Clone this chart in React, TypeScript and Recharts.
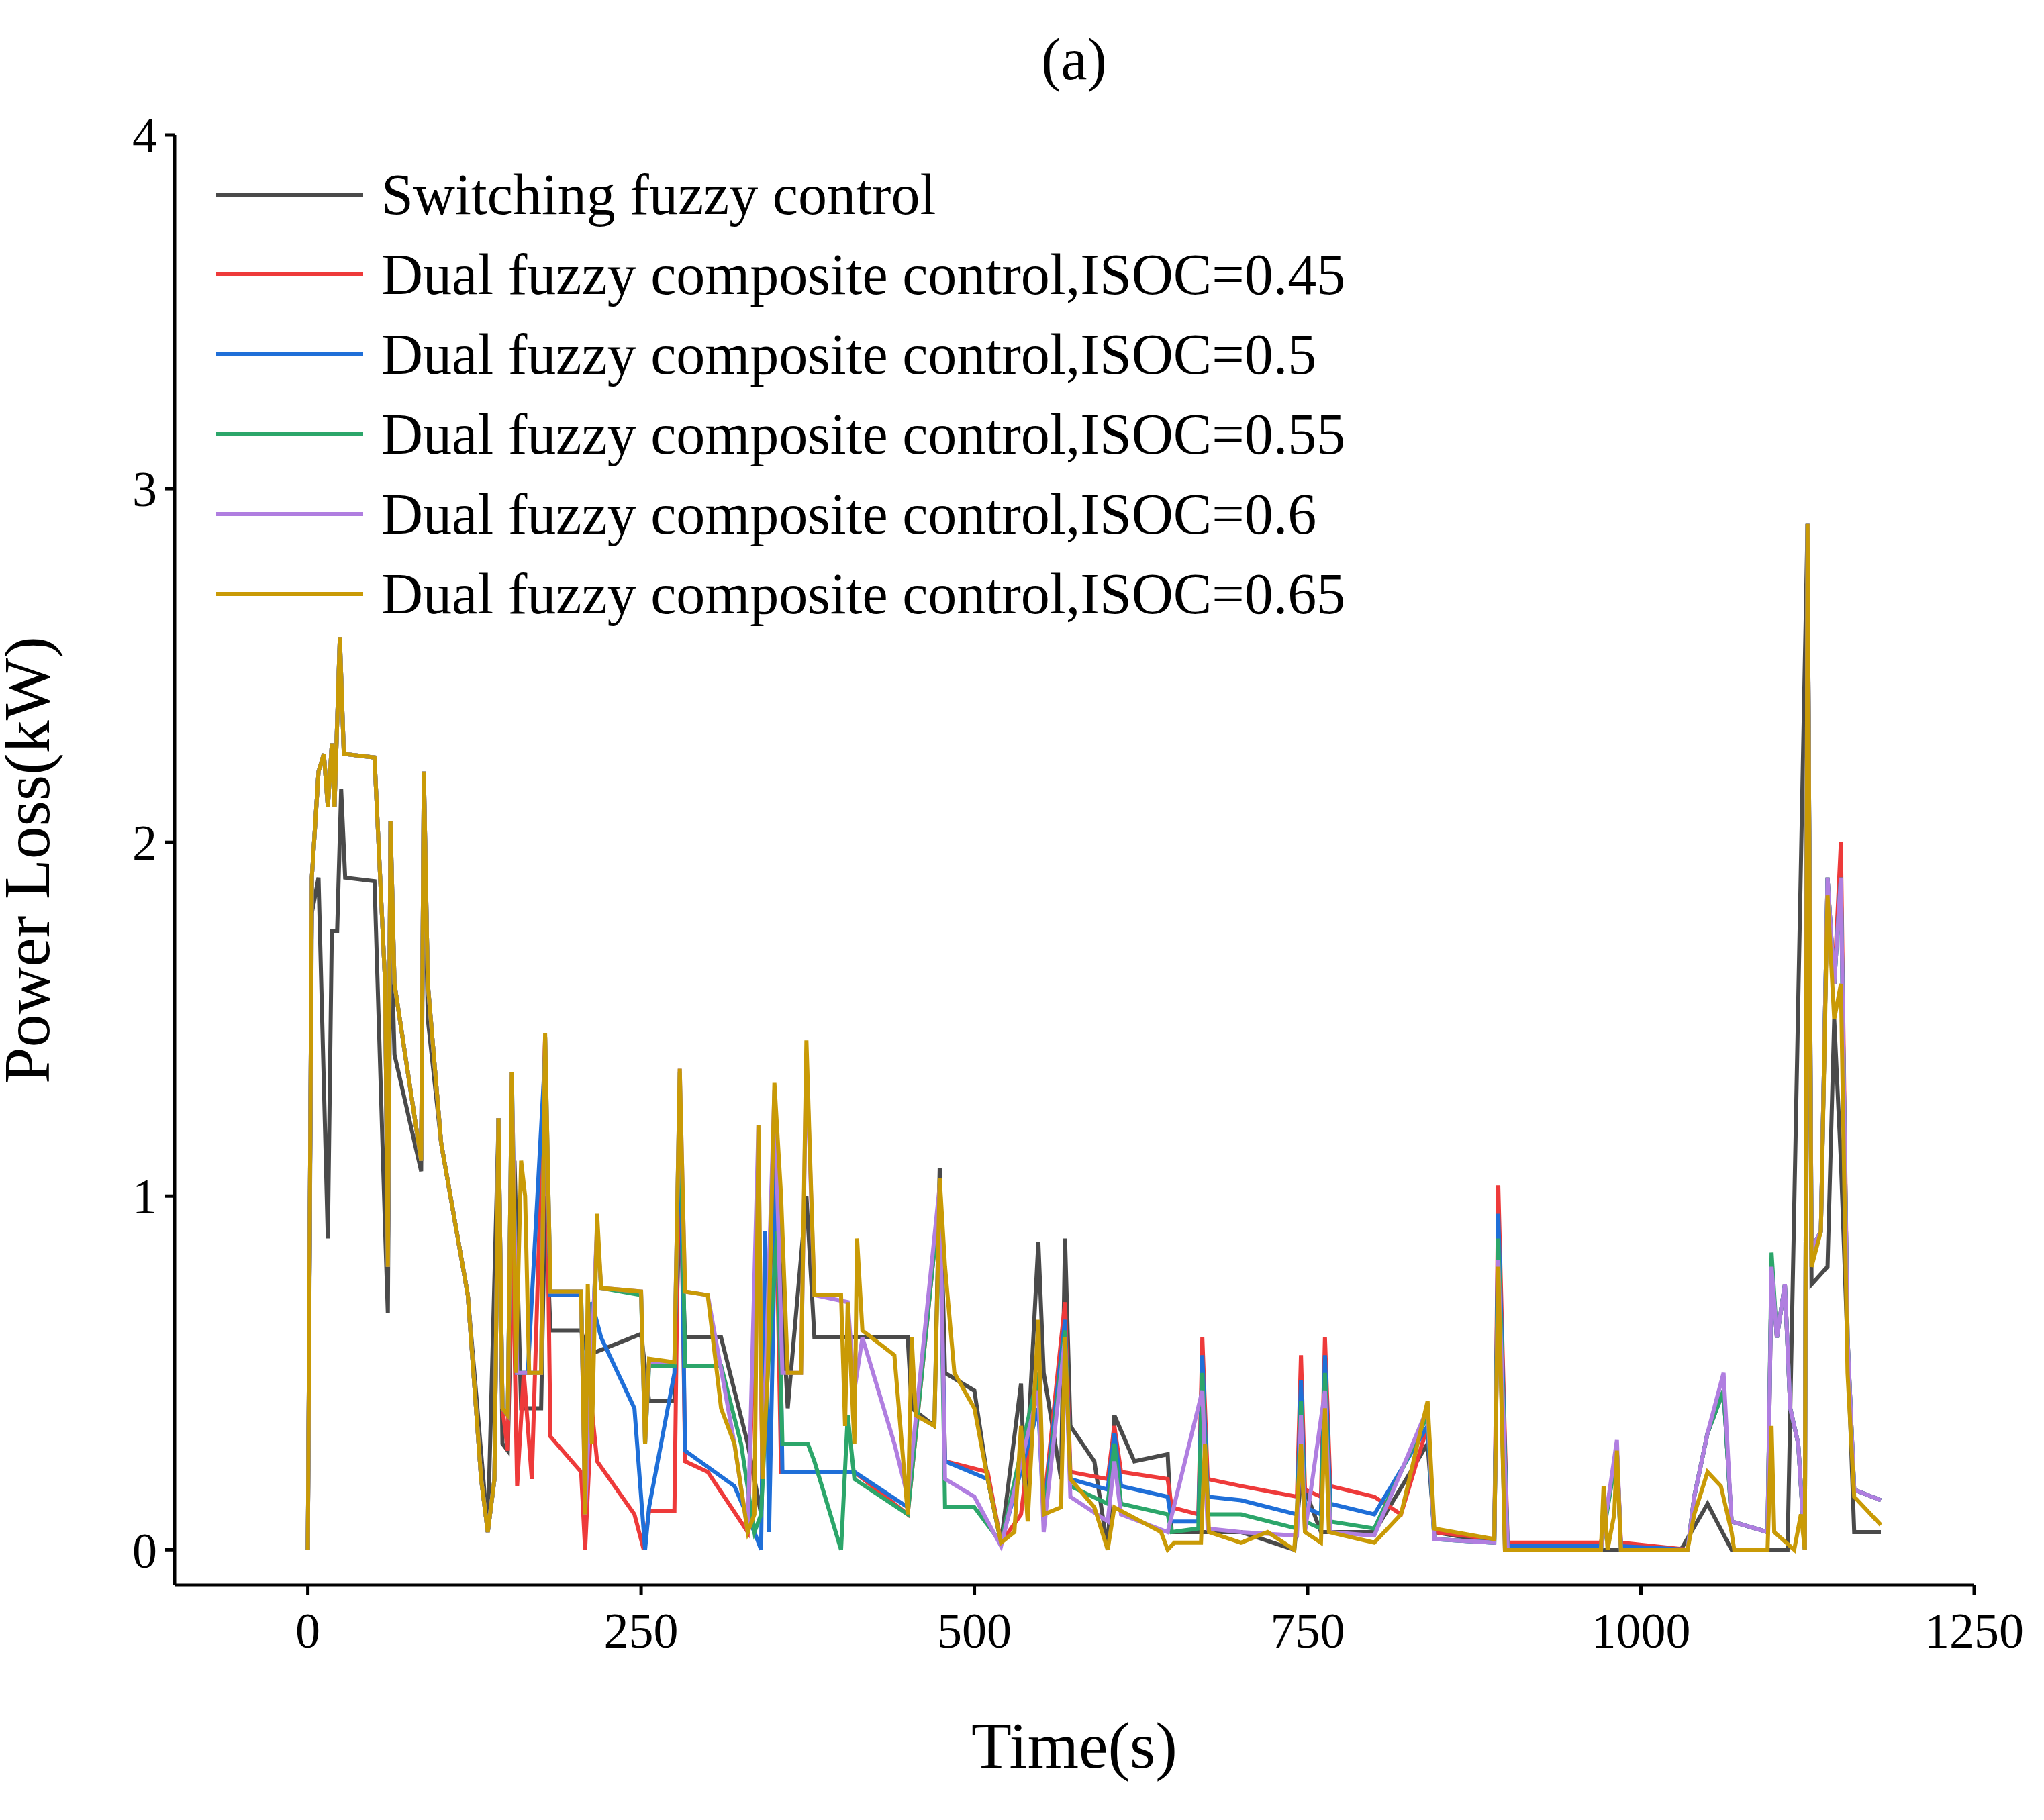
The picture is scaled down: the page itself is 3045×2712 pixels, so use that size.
import { LineChart, Line, XAxis, YAxis } from 'recharts';

type P = [number, number];

const xTicks = [0, 250, 500, 750, 1000, 1250];
const yTicks = [0, 1, 2, 3, 4];

const seriesNames = [
  'Switching fuzzy control',
  'Dual fuzzy composite control,ISOC=0.45',
  'Dual fuzzy composite control,ISOC=0.5',
  'Dual fuzzy composite control,ISOC=0.55',
  'Dual fuzzy composite control,ISOC=0.6',
  'Dual fuzzy composite control,ISOC=0.65',
];
const seriesColors = ['#4a4a4a', '#ee3a3a', '#1f6fd8', '#2ca66a', '#b07ee0', '#c99a06'];

const early: P[] = [
  [0, 0], [3, 1.9], [8, 2.2], [12, 2.25], [15, 2.1], [18, 2.28], [20, 2.1], [24, 2.58], [27, 2.25],
  [50, 2.24], [58, 1.6], [60, 0.8], [62, 2.06], [65, 1.6], [85, 1.1], [87, 2.2], [90, 1.6],
  [100, 1.15], [120, 0.72], [130, 0.2], [135, 0.05], [140, 0.2], [143, 1.22], [146, 0.4],
];

const tailCommon: P[] = [
  [1035, 0.0], [1040, 0.15], [1050, 0.33], [1062, 0.45], [1068, 0.08], [1095, 0.05],
  [1098, 0.8], [1102, 0.6], [1108, 0.75], [1112, 0.4], [1118, 0.3], [1123, 0.0], [1125, 2.9],
  [1128, 0.85], [1135, 0.9], [1140, 1.9], [1145, 1.6], [1150, 1.9], [1155, 0.6], [1160, 0.17], [1180, 0.14],
];

const blackData: P[] = [
  [0, 0], [3, 1.8], [8, 1.9], [15, 0.88], [18, 1.75], [22, 1.75], [25, 2.15], [28, 1.9], [50, 1.89],
  [58, 0.9], [60, 0.67], [62, 1.8], [65, 1.4], [85, 1.07], [87, 2.1], [90, 1.5], [100, 1.15],
  [120, 0.72], [135, 0.05], [143, 1.2], [146, 0.3], [150, 0.28], [155, 1.1], [160, 0.4], [175, 0.4],
  [178, 1.0], [182, 0.62], [205, 0.62], [210, 0.55], [250, 0.61], [256, 0.42], [275, 0.42],
  [279, 1.0], [283, 0.6], [310, 0.6], [330, 0.3], [340, 0.1], [350, 1.1], [360, 0.4], [374, 1.0],
  [380, 0.6], [450, 0.6], [453, 0.4], [470, 0.35], [474, 1.08], [478, 0.5], [500, 0.45], [510, 0.2],
  [520, 0.02], [535, 0.47], [538, 0.15], [548, 0.87], [552, 0.5], [565, 0.2], [568, 0.88],
  [572, 0.35], [590, 0.25], [600, 0.0], [605, 0.38], [620, 0.25], [645, 0.27], [648, 0.05],
  [700, 0.05], [740, 0.0], [745, 0.2], [760, 0.05], [800, 0.05], [840, 0.3], [845, 0.05],
  [890, 0.02], [893, 0.85], [898, 0.0], [1030, 0.0], [1050, 0.13], [1068, 0.0], [1110, 0.0],
  [1125, 2.9], [1128, 0.75], [1140, 0.8], [1145, 1.5], [1150, 1.1], [1160, 0.05], [1180, 0.05],
];

const redData: P[] = [
  ...early, [150, 0.28], [153, 1.0], [157, 0.18], [162, 0.5], [168, 0.2], [178, 1.45], [182, 0.32],
  [205, 0.22], [208, 0.0], [213, 0.4], [217, 0.25], [245, 0.1], [252, 0.0], [256, 0.11], [275, 0.11],
  [279, 1.3], [283, 0.25], [300, 0.22], [330, 0.05], [338, 1.0], [341, 0.2], [350, 1.25], [355, 0.22],
  [410, 0.22], [450, 0.1], [474, 1.0], [478, 0.25], [510, 0.22], [520, 0.02], [535, 0.1], [548, 0.5],
  [552, 0.12], [568, 0.7], [572, 0.22], [600, 0.2], [605, 0.35], [610, 0.22], [645, 0.2], [648, 0.12],
  [668, 0.1], [671, 0.6], [675, 0.2], [700, 0.18], [742, 0.15], [745, 0.55], [748, 0.17], [760, 0.15],
  [763, 0.6], [767, 0.18], [800, 0.15], [820, 0.1], [840, 0.35], [845, 0.05], [890, 0.03],
  [893, 1.03], [900, 0.02], [970, 0.02], [982, 0.28], [985, 0.02], ...tailCommon.map(([t, v]): P => [t, t === 1150 ? 2.0 : v]),
];

const blueData: P[] = [
  ...early, [150, 0.38], [153, 1.3], [157, 0.5], [165, 0.5], [178, 1.4], [182, 0.72], [205, 0.72],
  [208, 0.15], [213, 0.7], [220, 0.6], [245, 0.4], [253, 0.0], [256, 0.12], [275, 0.5],
  [279, 1.3], [283, 0.28], [320, 0.18], [335, 0.05], [340, 0.0], [343, 0.9], [346, 0.05],
  [352, 1.2], [356, 0.22], [410, 0.22], [450, 0.12], [474, 1.0], [478, 0.25], [510, 0.2],
  [520, 0.02], [548, 0.4], [552, 0.1], [568, 0.65], [572, 0.2], [600, 0.17], [605, 0.33],
  [610, 0.18], [645, 0.15], [648, 0.08], [668, 0.08], [671, 0.55], [675, 0.15], [700, 0.14],
  [742, 0.1], [745, 0.48], [748, 0.12], [760, 0.1], [763, 0.55], [767, 0.13], [800, 0.1],
  [840, 0.35], [845, 0.03], [890, 0.02], [893, 0.95], [900, 0.01], [970, 0.01], [982, 0.28],
  [985, 0.01], ...tailCommon,
];

const greenData: P[] = [
  ...early, [150, 0.38], [153, 1.35], [157, 0.5], [175, 0.5], [178, 1.45], [182, 0.73], [205, 0.73],
  [208, 0.15], [217, 0.9], [220, 0.74], [250, 0.72], [253, 0.3], [256, 0.52], [275, 0.52],
  [279, 1.35], [283, 0.52], [310, 0.52], [325, 0.3], [335, 0.05], [340, 0.1], [345, 0.5],
  [352, 0.9], [356, 0.3], [375, 0.3], [380, 0.25], [400, 0.0], [405, 0.38], [410, 0.2],
  [450, 0.1], [474, 1.0], [478, 0.12], [500, 0.12], [520, 0.02], [548, 0.5], [552, 0.08],
  [568, 0.62], [572, 0.18], [600, 0.13], [605, 0.3], [610, 0.13], [645, 0.1], [648, 0.05],
  [668, 0.06], [671, 0.5], [675, 0.1], [700, 0.1], [742, 0.06], [745, 0.42], [748, 0.08],
  [760, 0.06], [763, 0.5], [767, 0.08], [800, 0.06], [840, 0.38], [845, 0.03], [890, 0.02],
  [893, 0.88], [900, 0.0], [970, 0.0], [982, 0.28], [985, 0.0], ...tailCommon.map(([t, v]): P => [t, t === 1098 ? 0.84 : v]),
];

const purpleData: P[] = [
  ...early, [150, 0.38], [153, 1.35], [157, 0.5], [175, 0.5], [178, 1.45], [182, 0.73], [205, 0.73],
  [208, 0.1], [217, 0.92], [220, 0.74], [250, 0.73], [253, 0.3], [256, 0.53], [275, 0.53],
  [279, 1.36], [283, 0.73], [300, 0.72], [320, 0.3], [330, 0.05], [338, 1.2], [341, 0.2],
  [350, 1.3], [356, 0.5], [370, 0.5], [374, 1.4], [380, 0.72], [405, 0.7], [410, 0.45],
  [416, 0.6], [440, 0.3], [450, 0.15], [474, 1.03], [478, 0.2], [500, 0.15], [520, 0.01],
  [548, 0.45], [552, 0.05], [568, 0.6], [572, 0.15], [600, 0.08], [605, 0.25], [610, 0.1],
  [645, 0.05], [671, 0.45], [675, 0.06], [700, 0.05], [742, 0.04], [745, 0.38], [748, 0.05],
  [763, 0.45], [767, 0.05], [800, 0.04], [840, 0.4], [845, 0.03], [890, 0.02], [893, 0.82],
  [900, 0.0], [970, 0.0], [982, 0.31], [985, 0.0], ...tailCommon.map(([t, v]): P => [t, t === 1062 ? 0.5 : v]),
];

const goldData: P[] = [
  ...early, [150, 0.38], [153, 1.35], [156, 0.5], [160, 1.1], [163, 1.0], [166, 0.5], [175, 0.5],
  [178, 1.46], [182, 0.73], [205, 0.73], [208, 0.1], [210, 0.75], [213, 0.3], [217, 0.95],
  [220, 0.74], [250, 0.73], [253, 0.3], [256, 0.54], [275, 0.53], [279, 1.36], [283, 0.73],
  [300, 0.72], [310, 0.4], [320, 0.3], [330, 0.05], [335, 0.1], [338, 1.2], [341, 0.2],
  [345, 0.5], [350, 1.32], [355, 1.0], [360, 0.5], [370, 0.5], [374, 1.44], [380, 0.72],
  [400, 0.72], [403, 0.35], [405, 0.7], [410, 0.3], [412, 0.88], [416, 0.62], [440, 0.55],
  [450, 0.1], [453, 0.6], [456, 0.38], [470, 0.35], [474, 1.05], [478, 0.8], [485, 0.5],
  [500, 0.4], [510, 0.2], [520, 0.02], [530, 0.05], [535, 0.35], [540, 0.08], [548, 0.65],
  [552, 0.1], [565, 0.12], [568, 0.6], [572, 0.2], [590, 0.12], [600, 0.0], [605, 0.12],
  [640, 0.05], [645, 0.0], [650, 0.02], [670, 0.02], [673, 0.3], [676, 0.05], [700, 0.02],
  [720, 0.05], [740, 0.0], [745, 0.3], [748, 0.05], [760, 0.02], [763, 0.4], [766, 0.05],
  [800, 0.02], [820, 0.1], [840, 0.42], [845, 0.06], [890, 0.03], [893, 0.8], [898, 0.0],
  [970, 0.0], [972, 0.18], [975, 0.0], [980, 0.1], [982, 0.28], [985, 0.0], [1035, 0.0],
  [1040, 0.1], [1050, 0.22], [1060, 0.18], [1068, 0.05], [1070, 0.0], [1095, 0.0], [1098, 0.35],
  [1100, 0.05], [1115, 0.0], [1120, 0.1], [1123, 0.0], [1125, 2.9], [1128, 0.8], [1135, 0.9],
  [1140, 1.85], [1145, 1.5], [1150, 1.6], [1155, 0.5], [1160, 0.15], [1180, 0.07],
];

const allSeries = [blackData, redData, blueData, greenData, purpleData, goldData];
const font = '"Liberation Serif", "Times New Roman", serif';

export default function App() {
  return (
    <div style={{ fontFamily: font, position: 'relative', width: 3029, height: 2696 }}>
      <LineChart width={3029} height={2696} margin={{ top: 193, right: 96, bottom: 0, left: 0 }}>
        <text x={1592} y={110} textAnchor="middle" fontSize={88} fontFamily={font}>(a)</text>
        <XAxis
          type="number" dataKey="t" domain={[-100, 1250]} ticks={xTicks} height={342}
          allowDataOverflow stroke="#000" strokeWidth={5} tickSize={14}
          tick={{ fontSize: 74, fill: '#000', fontFamily: font, dy: 24 }}
          label={{ value: 'Time(s)', position: 'insideBottom', offset: 70, fontSize: 98, fill: '#000', fontFamily: font }}
        />
        <XAxis xAxisId="top" orientation="top" type="number" domain={[-100, 1250]} height={0} tick={false} stroke="#000" strokeWidth={5} tickLine={false} />
        <YAxis
          type="number" domain={[-0.1, 4]} ticks={yTicks} width={252}
          allowDataOverflow stroke="#000" strokeWidth={5} tickSize={14}
          tick={{ fontSize: 74, fill: '#000', fontFamily: font, dx: -10 }}
          label={{ value: 'Power Loss(kW)', angle: -90, position: 'insideLeft', offset: 30, fontSize: 98, fill: '#000', fontFamily: font, style: { textAnchor: 'middle' } }}
        />
        <YAxis yAxisId="right" orientation="right" domain={[-0.1, 4]} width={0} tick={false} stroke="#000" strokeWidth={5} tickLine={false} />
        {allSeries.map((d, i) => (
          <Line
            key={i}
            data={d.map(([t, v]) => ({ t, v }))}
            dataKey="v"
            name={seriesNames[i]}
            stroke={seriesColors[i]}
            strokeWidth={6}
            dot={false}
            type="linear"
            isAnimationActive={false}
          />
        ))}
      </LineChart>
      <div style={{ position: 'absolute', left: 314, top: 222 }}>
        {seriesNames.map((n, i) => (
          <div key={n} style={{ display: 'flex', alignItems: 'center', height: 119, fontSize: 86, whiteSpace: 'nowrap' }}>
            <div style={{ width: 219, height: 6, background: seriesColors[i], marginRight: 27 }} />
            <span>{n}</span>
          </div>
        ))}
      </div>
    </div>
  );
}
